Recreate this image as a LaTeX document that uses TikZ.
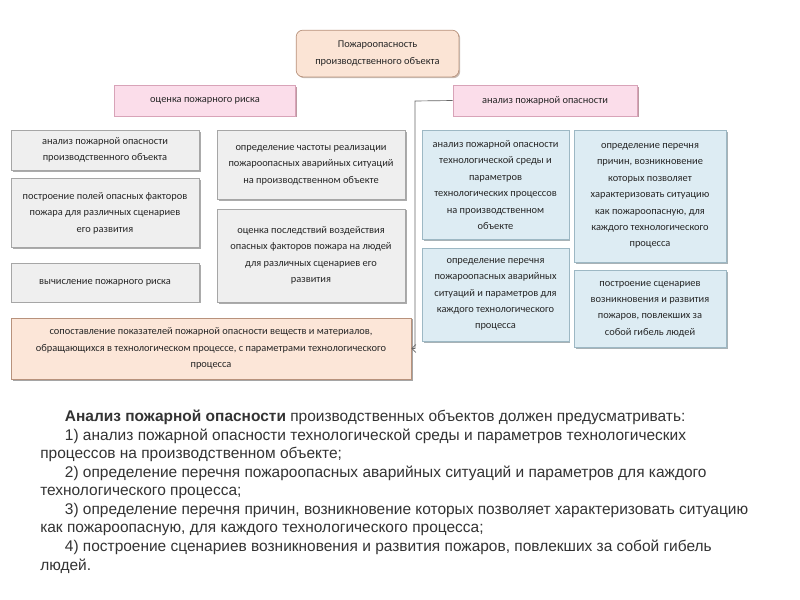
\documentclass[tikz,border=0pt]{standalone}
\usepackage{fontspec}
\setmainfont{Liberation Sans}
\newfontfamily\boxfont{Carlito}
\usetikzlibrary{shadows,arrows.meta}
\definecolor{peachtop}{HTML}{FBE4D5}
\definecolor{peachline}{HTML}{B8927C}
\definecolor{pinkfill}{HTML}{FBDDEA}
\definecolor{pinkline}{HTML}{D8A3B8}
\definecolor{pinkshade}{HTML}{7E3446}
\definecolor{grayfill}{HTML}{EFEFEF}
\definecolor{grayline}{HTML}{A6A6A6}
\definecolor{blueline}{HTML}{9DB8C4}
\definecolor{bluefill}{HTML}{DDECF3}
\definecolor{blueshade}{HTML}{52666F}
\definecolor{cmpfill}{HTML}{FCE6D8}
\definecolor{txt}{HTML}{333333}
\tikzset{
  base/.style={draw, line width=0.5pt, inner sep=2pt, align=center, text=black!85,
    font=\boxfont\fontsize{7.8}{12.3}\selectfont},
  topbox/.style={base, rounded corners=5pt, fill=peachtop, draw=peachline,
    drop shadow={shadow xshift=1pt, shadow yshift=-1pt, fill=peachline!80!black}},
  pinkbox/.style={base, fill=pinkfill, draw=pinkline,
    drop shadow={shadow xshift=1.2pt, shadow yshift=-1.2pt, fill=pinkshade}},
  graybox/.style={base, fill=grayfill, draw=grayline,
    drop shadow={shadow xshift=1.2pt, shadow yshift=-1.2pt, fill=black!65}},
  bluebox/.style={base, fill=bluefill, draw=blueline,
    drop shadow={shadow xshift=1.2pt, shadow yshift=-1.2pt, fill=blueshade}},
  cmpbox/.style={base, fill=cmpfill, draw=peachline,
    drop shadow={shadow xshift=1.2pt, shadow yshift=-1.2pt, fill=black!70}},
}
\begin{document}
\begin{tikzpicture}[x=0.75pt, y=-0.75pt]
\useasboundingbox[fill=white] (0,0) rectangle (800,600);
\node[topbox, minimum width=122pt, minimum height=35pt] (fire) at (377.5,53.5)
  {Пожароопасность\\ производственного объекта};
\node[pinkbox, minimum width=136pt, minimum height=23pt] (risk) at (205,100.5)
  {оценка пожарного риска};
\node[pinkbox, minimum width=138pt, minimum height=23pt] (anal) at (545,100.5)
  {анализ пожарной опасности};
\node[graybox, minimum width=141pt, minimum height=30pt] (g1) at (105,150)
  {анализ пожарной опасности\\ производственного объекта};
\node[graybox, minimum width=141pt, minimum height=52pt] (g2) at (105,213)
  {построение полей опасных факторов\\ пожара для различных сценариев\\ его развития};
\node[graybox, minimum width=141pt, minimum height=29pt] (g3) at (105,282.5)
  {вычисление пожарного риска};
\node[graybox, minimum width=141pt, minimum height=52pt] (g4) at (311,165)
  {определение частоты реализации\\ пожароопасных аварийных ситуаций\\ на производственном объекте};
\node[graybox, minimum width=141pt, minimum height=70pt] (g5) at (311,255.5)
  {оценка последствий воздействия\\ опасных факторов пожара на людей\\ для различных сценариев его\\ развития};
\node[cmpbox, minimum width=300pt, minimum height=46pt] (cmp) at (211,348.5)
  {сопоставление показателей пожарной опасности веществ и материалов,\\ обращающихся в технологическом процессе, с параметрами технологического\\ процесса};
\node[bluebox, minimum width=110pt, minimum height=82pt] (b1) at (495.5,185)
  {анализ пожарной опасности\\ технологической среды и\\ параметров\\ технологических процессов\\ на производственном\\ объекте};
\node[bluebox, minimum width=110pt, minimum height=70pt] (b2) at (495.5,294.5)
  {определение перечня\\ пожароопасных аварийных\\ ситуаций и параметров для\\ каждого технологического\\ процесса};
\node[bluebox, minimum width=114pt, minimum height=99pt] (b3) at (650,196)
  {определение перечня\\ причин, возникновение\\ которых позволяет\\ характеризовать ситуацию\\ как пожароопасную, для\\ каждого технологического\\ процесса};
\node[bluebox, minimum width=114pt, minimum height=58pt] (b4) at (650,309)
  {построение сценариев\\ возникновения и развития\\ пожаров, повлекших за\\ собой гибель людей};
\coordinate (bend) at (415,101);
\draw[black!60, line width=0.5pt, -{Straight Barb[length=3pt, width=6pt]}] (anal.west) -- (bend) |- (cmp.east);
\node[anchor=north west, inner sep=0pt, align=left, text=txt,
  font=\fontsize{11.6}{13.9}\selectfont] (para) at (40,410)
  {\hspace*{18.5pt}\textbf{Анализ пожарной опасности} производственных объектов должен предусматривать:\\
   \hspace*{18.5pt}1) анализ пожарной опасности технологической среды и параметров технологических\\
   процессов на производственном объекте;\\
   \hspace*{18.5pt}2) определение перечня пожароопасных аварийных ситуаций и параметров для каждого\\
   технологического процесса;\\
   \hspace*{18.5pt}3) определение перечня причин, возникновение которых позволяет характеризовать ситуацию\\
   как пожароопасную, для каждого технологического процесса;\\
   \hspace*{18.5pt}4) построение сценариев возникновения и развития пожаров, повлекших за собой гибель\\
   людей.};
\end{tikzpicture}
\end{document}
